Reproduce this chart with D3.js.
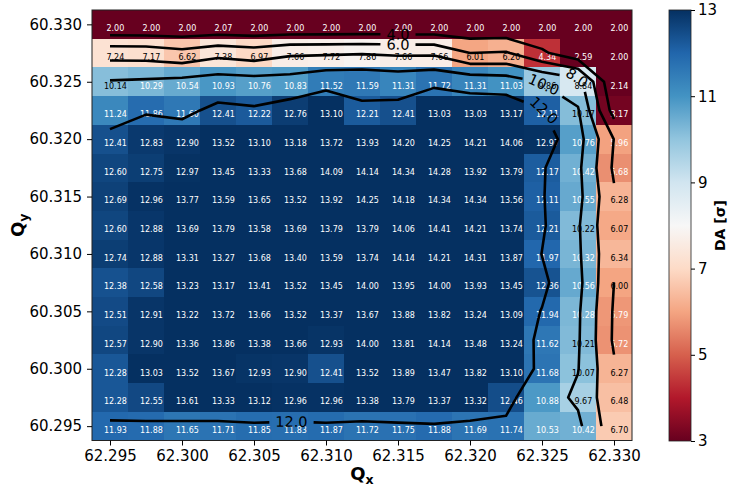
<!DOCTYPE html>
<html>
<head>
<meta charset="utf-8">
<script src="https://cdn.jsdelivr.net/npm/d3@7"></script>
<style>
  html, body { margin: 0; padding: 0; background: #fff; }
  svg { display: block; font-family: "DejaVu Sans", sans-serif; }
</style>
</head>
<body>
<svg id="chart" width="731" height="486"></svg>
<script>
// Tune scan: dynamic aperture (in sigma) over the (Qx, Qy) working-point grid.
const step = 0.0025;
const qx = [62.2950, 62.2975, 62.3000, 62.3025, 62.3050, 62.3075, 62.3100, 62.3125,
            62.3150, 62.3175, 62.3200, 62.3225, 62.3250, 62.3275, 62.3300];
// rows listed from the highest Qy down to the lowest
const qy = [60.3300, 60.3275, 60.3250, 60.3225, 60.3200, 60.3175, 60.3150, 60.3125,
            60.3100, 60.3075, 60.3050, 60.3025, 60.3000, 60.2975, 60.2950];
const da = [
  [ 2.00,  2.00,  2.00,  2.07,  2.00,  2.00,  2.00,  2.00,  2.00,  2.00,  2.00,  2.00,  2.00,  2.00, 2.00],
  [ 7.24,  7.17,  6.62,  7.38,  6.97,  7.66,  7.72,  7.86,  7.66,  7.66,  6.01,  6.20,  4.34,  2.59, 2.00],
  [10.14, 10.29, 10.54, 10.93, 10.76, 10.83, 11.52, 11.59, 11.31, 11.72, 11.31, 11.03,  9.86,  8.84, 2.14],
  [11.24, 11.86, 11.60, 12.41, 12.22, 12.76, 13.10, 12.21, 12.41, 13.03, 13.03, 13.17, 12.11, 10.17, 3.17],
  [12.41, 12.83, 12.90, 13.52, 13.10, 13.18, 13.72, 13.93, 14.20, 14.25, 14.21, 14.06, 12.97, 10.76, 5.96],
  [12.60, 12.75, 12.97, 13.45, 13.33, 13.68, 14.09, 14.14, 14.34, 14.28, 13.92, 13.79, 12.17, 10.42, 5.68],
  [12.69, 12.96, 13.77, 13.59, 13.65, 13.52, 13.92, 14.25, 14.18, 14.34, 14.34, 13.56, 12.11, 10.55, 6.28],
  [12.60, 12.88, 13.69, 13.79, 13.58, 13.69, 13.79, 13.79, 14.06, 14.41, 14.21, 13.74, 12.21, 10.22, 6.07],
  [12.74, 12.88, 13.31, 13.27, 13.68, 13.40, 13.59, 13.74, 14.14, 14.21, 14.31, 13.87, 11.97, 10.32, 6.34],
  [12.38, 12.58, 13.23, 13.17, 13.41, 13.52, 13.45, 14.00, 13.95, 14.00, 13.93, 13.45, 12.36, 10.56, 6.00],
  [12.51, 12.91, 13.22, 13.72, 13.66, 13.52, 13.37, 13.67, 13.88, 13.82, 13.24, 13.09, 11.94, 10.28, 5.79],
  [12.57, 12.90, 13.36, 13.86, 13.38, 13.66, 12.93, 14.00, 13.81, 14.14, 13.48, 13.24, 11.62, 10.21, 5.72],
  [12.28, 13.03, 13.52, 13.67, 12.93, 12.90, 12.41, 13.52, 13.89, 13.47, 13.82, 13.10, 11.68, 10.07, 6.27],
  [12.28, 12.55, 13.61, 13.33, 13.12, 12.96, 12.96, 13.38, 13.79, 13.37, 13.32, 12.46, 10.88,  9.67, 6.48],
  [11.93, 11.88, 11.65, 11.71, 11.85, 11.83, 11.87, 11.72, 11.75, 11.88, 11.69, 11.74, 10.53, 10.42, 6.70]
];
const xTicks = [62.295, 62.300, 62.305, 62.310, 62.315, 62.320, 62.325, 62.330];
const yTicks = [60.295, 60.300, 60.305, 60.310, 60.315, 60.320, 60.325, 60.330];
const cbarTicks = [3, 5, 7, 9, 11, 13];
const levels = [4, 6, 8, 10, 12];
// where each contour gets its inline label (nearest point on that level's line)
const contourLabels = [
  { level: 4,  qx: 62.3150, qy: 60.3294 },
  { level: 6,  qx: 62.3150, qy: 60.3284 },
  { level: 8,  qx: 62.3274, qy: 60.3252 },
  { level: 10, qx: 62.3252, qy: 60.3249 },
  { level: 12, qx: 62.3253, qy: 60.3228 },
  { level: 12, qx: 62.3076, qy: 60.2953 }
];
const cmin = 3, cmax = 13;
const rdbu = ["#67001f", "#b2182b", "#d6604d", "#f4a582", "#fddbc7", "#f7f7f7",
              "#d1e5f0", "#92c5de", "#4393c3", "#2166ac", "#053061"];

const svg = d3.select("#chart");
const plot = { left: 92, right: 632, top: 10, bottom: 440.5 };

const X = d3.scaleLinear()
  .domain([qx[0] - step / 2, qx[qx.length - 1] + step / 2])
  .range([plot.left, plot.right]);
const Y = d3.scaleLinear()
  .domain([qy[qy.length - 1] - step / 2, qy[0] + step / 2])
  .range([plot.bottom, plot.top]);
const color = d3.scaleLinear()
  .domain(rdbu.map((_, i) => cmin + i * (cmax - cmin) / (rdbu.length - 1)))
  .range(rdbu)
  .interpolate(d3.interpolateRgb)
  .clamp(true);

// ---- heatmap cells ----
const cells = [];
qy.forEach((y, r) => qx.forEach((x, c) => cells.push({ x, y, v: da[r][c] })));

svg.append("g").selectAll("rect").data(cells).join("rect")
  .attr("x", d => X(d.x - step / 2))
  .attr("y", d => Y(d.y + step / 2))
  .attr("width", d => X(d.x + step / 2) - X(d.x - step / 2))
  .attr("height", d => Y(d.y - step / 2) - Y(d.y + step / 2))
  .attr("fill", d => color(d.v))
  .attr("shape-rendering", "crispEdges");

svg.append("g").selectAll("text").data(cells).join("text")
  .attr("x", d => X(d.x + 0.15 * step))
  .attr("y", d => Y(d.y - 0.15 * step))
  .attr("text-anchor", "middle")
  .attr("dominant-baseline", "central")
  .attr("font-size", 8)
  .attr("fill", d => (d.v < 5.98 || d.v > 10.25) ? "#ffffff" : "#000000")
  .text(d => d3.format(".2f")(d.v));

// ---- contour lines (marching squares through the cell centres) ----
function traceLevel(level) {
  const nr = qy.length, nc = qx.length;
  const P = new Map();
  const segs = [];
  const node = (r, c) => [X(qx[c]), Y(qy[r])];
  function edge(id, r0, c0, r1, c1) {
    if (!P.has(id)) {
      const v0 = da[r0][c0], v1 = da[r1][c1];
      const t = (level - v0) / (v1 - v0);
      const p0 = node(r0, c0), p1 = node(r1, c1);
      P.set(id, [p0[0] + t * (p1[0] - p0[0]), p0[1] + t * (p1[1] - p0[1])]);
    }
    return id;
  }
  for (let r = 0; r < nr - 1; r++) {
    for (let c = 0; c < nc - 1; c++) {
      const a = da[r][c], b = da[r][c + 1], e = da[r + 1][c + 1], d = da[r + 1][c];
      const A = a >= level, B = b >= level, E = e >= level, D = d >= level;
      const ed = [
        A !== B ? edge(`h${r},${c}`, r, c, r, c + 1) : null,
        B !== E ? edge(`v${r},${c + 1}`, r, c + 1, r + 1, c + 1) : null,
        D !== E ? edge(`h${r + 1},${c}`, r + 1, c, r + 1, c + 1) : null,
        A !== D ? edge(`v${r},${c}`, r, c, r + 1, c) : null
      ];
      const hit = ed.filter(x => x !== null);
      if (hit.length === 2) segs.push(hit);
      else if (hit.length === 4) {
        const mid = (a + b + e + d) / 4 >= level;
        if (mid === A) segs.push([ed[0], ed[1]], [ed[2], ed[3]]);
        else segs.push([ed[0], ed[3]], [ed[1], ed[2]]);
      }
    }
  }
  const adj = new Map();
  segs.forEach((s, i) => s.forEach(id => {
    if (!adj.has(id)) adj.set(id, []);
    adj.get(id).push(i);
  }));
  const used = new Array(segs.length).fill(false);
  function walk(start) {
    const ids = [start];
    let cur = start;
    for (;;) {
      const nxt = (adj.get(cur) || []).find(i => !used[i]);
      if (nxt === undefined) break;
      used[nxt] = true;
      const s = segs[nxt];
      cur = s[0] === cur ? s[1] : s[0];
      ids.push(cur);
    }
    return ids.map(id => P.get(id));
  }
  const lines = [];
  for (const [id, list] of adj) {
    if (list.length === 1 && !used[list[0]]) lines.push(walk(id));
  }
  segs.forEach((s, i) => { if (!used[i]) lines.push(walk(s[0])); });
  return lines.filter(l => l.length > 1);
}

function cumLength(pts) {
  const cum = [0];
  for (let i = 1; i < pts.length; i++) {
    cum.push(cum[i - 1] + Math.hypot(pts[i][0] - pts[i - 1][0], pts[i][1] - pts[i - 1][1]));
  }
  return cum;
}
function pointAt(pts, cum, s) {
  const L = cum[cum.length - 1];
  s = Math.max(0, Math.min(L, s));
  let i = 0;
  while (i < cum.length - 2 && cum[i + 1] < s) i++;
  const seg = cum[i + 1] - cum[i] || 1;
  const t = (s - cum[i]) / seg;
  return [pts[i][0] + t * (pts[i + 1][0] - pts[i][0]), pts[i][1] + t * (pts[i + 1][1] - pts[i][1])];
}
function slicePath(pts, cum, s0, s1) {
  const out = [pointAt(pts, cum, s0)];
  for (let i = 0; i < pts.length; i++) if (cum[i] > s0 && cum[i] < s1) out.push(pts[i]);
  out.push(pointAt(pts, cum, s1));
  return out;
}

const contourData = levels.map(level => {
  const lines = traceLevel(level).map(pts => ({ pts, cum: cumLength(pts), cuts: [] }));
  return { level, lines };
});

const labelLayer = svg.append("g");
const labelFmt = d3.format(".1f");
const labelPad = 6;

contourLabels.forEach(lab => {
  const set = contourData.find(c => c.level === lab.level);
  if (!set) return;
  const ax = X(lab.qx), ay = Y(lab.qy);
  let best = null;
  set.lines.forEach(line => {
    const p = line.pts;
    for (let i = 0; i < p.length - 1; i++) {
      const dx = p[i + 1][0] - p[i][0], dy = p[i + 1][1] - p[i][1];
      const len2 = dx * dx + dy * dy || 1;
      const t = Math.max(0, Math.min(1, ((ax - p[i][0]) * dx + (ay - p[i][1]) * dy) / len2));
      const px = p[i][0] + t * dx, py = p[i][1] + t * dy;
      const dist = Math.hypot(ax - px, ay - py);
      if (!best || dist < best.dist) {
        best = { dist, line, s: line.cum[i] + t * Math.sqrt(len2) };
      }
    }
  });
  if (!best) return;
  const text = labelLayer.append("text")
    .attr("text-anchor", "middle")
    .attr("dominant-baseline", "central")
    .attr("font-size", 14.5)
    .attr("fill", "#000")
    .text(labelFmt(lab.level));
  const w = text.node().getComputedTextLength();
  const { line, s } = best;
  const L = line.cum[line.cum.length - 1];
  const s0 = Math.max(0, s - w / 2 - labelPad), s1 = Math.min(L, s + w / 2 + labelPad);
  const p0 = pointAt(line.pts, line.cum, s0), p1 = pointAt(line.pts, line.cum, s1);
  let ang = Math.atan2(p1[1] - p0[1], p1[0] - p0[0]) * 180 / Math.PI;
  if (ang > 90) ang -= 180;
  if (ang < -90) ang += 180;
  const c = pointAt(line.pts, line.cum, s);
  text.attr("transform", `translate(${c[0]},${c[1]}) rotate(${ang})`);
  line.cuts.push([s0, s1]);
});

const lineGen = d3.line();
const pieces = [];
contourData.forEach(set => set.lines.forEach(line => {
  const L = line.cum[line.cum.length - 1];
  const cuts = line.cuts.slice().sort((a, b) => a[0] - b[0]);
  let start = 0;
  cuts.forEach(([a, b]) => {
    if (a > start) pieces.push(slicePath(line.pts, line.cum, start, a));
    start = Math.max(start, b);
  });
  if (start < L) pieces.push(slicePath(line.pts, line.cum, start, L));
}));

svg.insert("g", () => labelLayer.node())
  .selectAll("path").data(pieces).join("path")
  .attr("d", d => lineGen(d))
  .attr("fill", "none")
  .attr("stroke", "#000")
  .attr("stroke-width", 2.6)
  .attr("stroke-linejoin", "round")
  .attr("stroke-linecap", "butt");

// ---- frame and axes ----
svg.append("rect")
  .attr("x", plot.left).attr("y", plot.top)
  .attr("width", plot.right - plot.left).attr("height", plot.bottom - plot.top)
  .attr("fill", "none").attr("stroke", "#222").attr("stroke-width", 1);

const tickFmt = d3.format(".3f");
const xAxis = svg.append("g")
  .attr("transform", `translate(0,${plot.bottom})`)
  .call(d3.axisBottom(X).tickValues(xTicks).tickFormat(tickFmt).tickSize(5).tickPadding(4.5));
const yAxis = svg.append("g")
  .attr("transform", `translate(${plot.left},0)`)
  .call(d3.axisLeft(Y).tickValues(yTicks).tickFormat(tickFmt).tickSize(5).tickPadding(5));
[xAxis, yAxis].forEach(g => {
  g.select(".domain").remove();
  g.selectAll("text").attr("font-family", "DejaVu Sans").attr("font-size", 15).attr("fill", "#000");
  g.selectAll("line").attr("stroke", "#000");
});

const xLabel = svg.append("text")
  .attr("x", (plot.left + plot.right) / 2).attr("y", 480)
  .attr("text-anchor", "middle").attr("font-size", 18).attr("font-weight", "bold");
xLabel.append("tspan").text("Q");
xLabel.append("tspan").attr("font-size", 12.5).attr("dy", 4).text("x");

const yLabel = svg.append("text")
  .attr("transform", `translate(24,${(plot.top + plot.bottom) / 2}) rotate(-90)`)
  .attr("text-anchor", "middle").attr("font-size", 18).attr("font-weight", "bold");
yLabel.append("tspan").text("Q");
yLabel.append("tspan").attr("font-size", 12.5).attr("dy", 4).text("y");

// ---- colour bar ----
const cb = { left: 669, right: 691, top: 10, bottom: 441 };
const C = d3.scaleLinear().domain([cmin, cmax]).range([cb.bottom, cb.top]);
const grad = svg.append("defs").append("linearGradient")
  .attr("id", "cbarGrad").attr("x1", 0).attr("y1", 1).attr("x2", 0).attr("y2", 0);
grad.selectAll("stop").data(rdbu).join("stop")
  .attr("offset", (_, i) => i / (rdbu.length - 1))
  .attr("stop-color", d => d);
svg.append("rect")
  .attr("x", cb.left).attr("y", cb.top)
  .attr("width", cb.right - cb.left).attr("height", cb.bottom - cb.top)
  .attr("fill", "url(#cbarGrad)")
  .attr("stroke", "#222").attr("stroke-width", 0.8);
const cAxis = svg.append("g")
  .attr("transform", `translate(${cb.right},0)`)
  .call(d3.axisRight(C).tickValues(cbarTicks).tickFormat(d3.format("d")).tickSize(4).tickPadding(3));
cAxis.select(".domain").remove();
cAxis.selectAll("text").attr("font-family", "DejaVu Sans").attr("font-size", 15).attr("fill", "#000");
cAxis.selectAll("line").attr("stroke", "#000");

svg.append("text")
  .attr("transform", `translate(725,${(cb.top + cb.bottom) / 2}) rotate(-90)`)
  .attr("text-anchor", "middle").attr("font-size", 14).attr("font-weight", "bold")
  .text("DA [σ]");
</script>
</body>
</html>
